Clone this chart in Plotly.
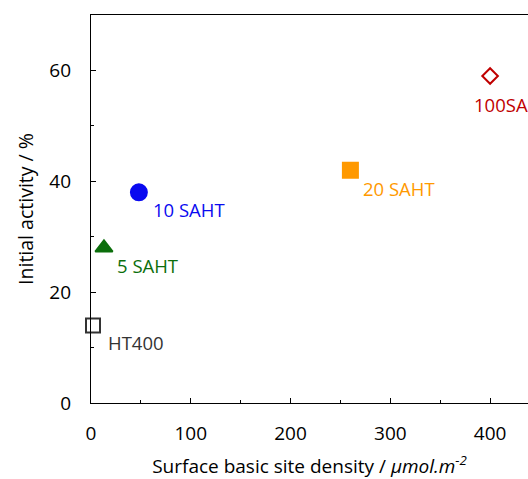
import plotly.graph_objects as go

names = ["HT400", "5 SAHT", "10 SAHT", "20 SAHT", "100SAHT"]
density = [2, 13, 48, 260, 400]
activity = [14, 28, 38, 42, 59]
colors = ["#333333", "#0B6E0B", "#0A0AF0", "#FF9900", "#C00000"]
symbols = ["square-open", "triangle-up", "circle", "square", "diamond-open"]
sizes = [14, 15, 16, 15, 12]
label_dx = [13, 11, 12, 11, -18]
label_dy = [-17, -18, -17, -18, -29]

x_ticks = [0, 100, 200, 300, 400]
y_ticks = [0, 20, 40, 60]

FONT = "Open Sans, Noto Sans, sans-serif"

fig = go.Figure()
for n, x, y, c, s, sz, dx, dy in zip(names, density, activity, colors, symbols, sizes, label_dx, label_dy):
    fig.add_trace(go.Scatter(
        x=[x], y=[y], mode="markers", name=n,
        marker=dict(symbol=s, size=sz, color=c, line=dict(color=c, width=2)),
        cliponaxis=False,
    ))
    fig.add_annotation(x=x, y=y, text=n, showarrow=False, xanchor="left", yanchor="middle",
                       xshift=dx, yshift=dy, font=dict(color=c, size=18.5, family=FONT))

fig.update_layout(
    width=528, height=479,
    margin=dict(l=91, r=0, t=15, b=76),
    plot_bgcolor="white", paper_bgcolor="white",
    showlegend=False,
    font=dict(family=FONT, size=19, color="black"),
    xaxis=dict(range=[0, 438], tickvals=x_ticks, ticks="inside", ticklen=5, tickcolor="black",
               showline=True, linecolor="black", linewidth=1.3, mirror=True,
               showgrid=False, zeroline=False, ticklabelstandoff=13,
               minor=dict(ticks="inside", dtick=50, ticklen=3, tickcolor="black"),
               title=dict(text="Surface basic site density / <i>μmol.m<sup>-2</sup></i>",
                          font=dict(size=19), standoff=16)),
    yaxis=dict(range=[0, 70], tickvals=y_ticks, ticks="inside", ticklen=5, tickcolor="black",
               showline=True, linecolor="black", linewidth=1.3, mirror=False,
               showgrid=False, zeroline=False, ticklabelstandoff=15,
               minor=dict(ticks="inside", dtick=10, ticklen=3, tickcolor="black"),
               title=dict(text="Initial activity / %", font=dict(size=19.5), standoff=10)),
)

fig.write_html(
    "out.html",
    config={"displayModeBar": False},
    post_script="document.body.style.margin='0';document.body.style.overflow='hidden';",
)
